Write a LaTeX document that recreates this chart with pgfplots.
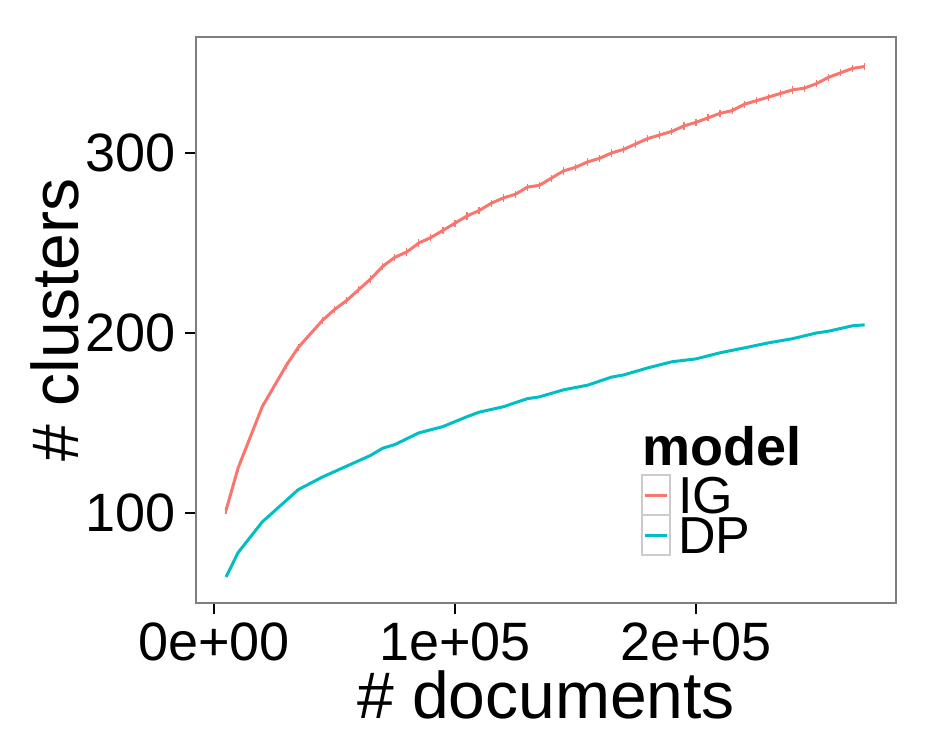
\documentclass[border=0pt]{standalone}
\usepackage{pgfplots}
\pgfplotsset{compat=1.18}
\usepackage{fontspec}
\setmainfont{Liberation Sans}
\definecolor{igc}{HTML}{F8766D}
\definecolor{dpc}{HTML}{00BFC4}
\definecolor{keybox}{HTML}{CCCCCC}
\definecolor{panel}{HTML}{7F7F7F}
\begin{document}
\begin{tikzpicture}
\begin{axis}[
    name=ax,
    scale only axis,
    width=350pt, height=283pt,
    xmin=-7470, xmax=283000,
    ymin=50, ymax=364.4,
    xtick={0,100000,200000},
    xticklabels={0e+00,1e+05,2e+05},
    scaled x ticks=false,
    ytick={100,200,300},
    /pgf/number format/assume math mode=true,
    xtick pos=bottom, ytick pos=left,
    tick align=outside,
    major tick length=5.5pt,
    tick style={black, line width=1pt},
    axis line style={panel, line width=0.8pt},
    ticklabel style={font=\fontsize{27}{30}\selectfont, inner sep=0pt},
    xticklabel style={yshift=-4.3pt},
    yticklabel style={xshift=-4.3pt},
    xlabel={\# documents},
    ylabel={\# clusters},
    label style={font=\fontsize{33}{36}\selectfont, inner sep=0pt},
    xlabel style={at={(axis description cs:0.5,-0.1625)}, anchor=center},
    ylabel style={at={(axis description cs:-0.2014,0.5)}, anchor=center},
]
% DP
\addplot[dpc, line width=1.5pt] coordinates {
(5000,64.5) (10000,78) (20000,95) (35000,113) (45000,120) (55000,126)
(65000,132) (70000,136) (75000,138) (85000,144.5) (95000,148)
(105000,153.5) (110000,156) (120000,159) (130000,163.5) (135000,164.5)
(145000,168.4) (155000,171) (165000,175.5) (170000,176.7) (180000,180.6)
(190000,184) (200000,185.6) (210000,189) (220000,191.7) (230000,194.5)
(240000,196.8) (250000,200) (255000,201) (265000,204) (270000,204.5)
};
% IG
\addplot[igc, line width=1.5pt,
    error bars/.cd, y dir=both, y fixed=2, error mark=none,
    error bar style={igc, line width=0.6pt}] coordinates {
(5000,101.5) (10000,125) (20000,159) (30000,182) (35000,192) (45000,207)
(50000,213) (55000,218) (60000,224) (65000,230) (70000,237) (75000,242)
(80000,245) (85000,250) (90000,253) (95000,257) (100000,261) (105000,265)
(110000,268) (115000,272) (120000,275) (125000,277) (130000,281)
(135000,282) (140000,286) (145000,290) (150000,292) (155000,295)
(160000,297) (165000,300) (170000,302) (175000,305) (180000,308)
(185000,310) (190000,312) (195000,315) (200000,317) (205000,319.5)
(210000,322) (215000,323.5) (220000,327) (225000,329) (230000,331)
(235000,333) (240000,335) (245000,336) (250000,338.5) (255000,342)
(260000,344.5) (265000,347) (270000,348)
};
% legend
\node[anchor=base west, inner sep=0pt, font=\fontsize{27}{30}\selectfont\bfseries]
    at (axis description cs:0.637,0.2438) {model};
\draw[keybox, line width=0.75pt] (axis description cs:0.637,0.1555) rectangle (axis description cs:0.677,0.2261);
\draw[keybox, line width=0.75pt] (axis description cs:0.637,0.0848) rectangle (axis description cs:0.677,0.1555);
\draw[igc, line width=1.5pt] (axis description cs:0.6414,0.1908) -- (axis description cs:0.6729,0.1908);
\draw[dpc, line width=1.5pt] (axis description cs:0.6414,0.1201) -- (axis description cs:0.6729,0.1201);
\node[anchor=west, inner sep=0pt, text height=18.6pt, text depth=0pt, font=\fontsize{26}{28}\selectfont]
    at (axis description cs:0.6886,0.1908) {IG};
\node[anchor=west, inner sep=0pt, text height=18.6pt, text depth=0pt, font=\fontsize{26}{28}\selectfont]
    at (axis description cs:0.6886,0.1201) {DP};
\end{axis}
\pgfresetboundingbox
\useasboundingbox ([shift={(-98pt,-72pt)}]ax.south west) rectangle ([shift={(19pt,18.5pt)}]ax.north east);
\end{tikzpicture}
\end{document}
